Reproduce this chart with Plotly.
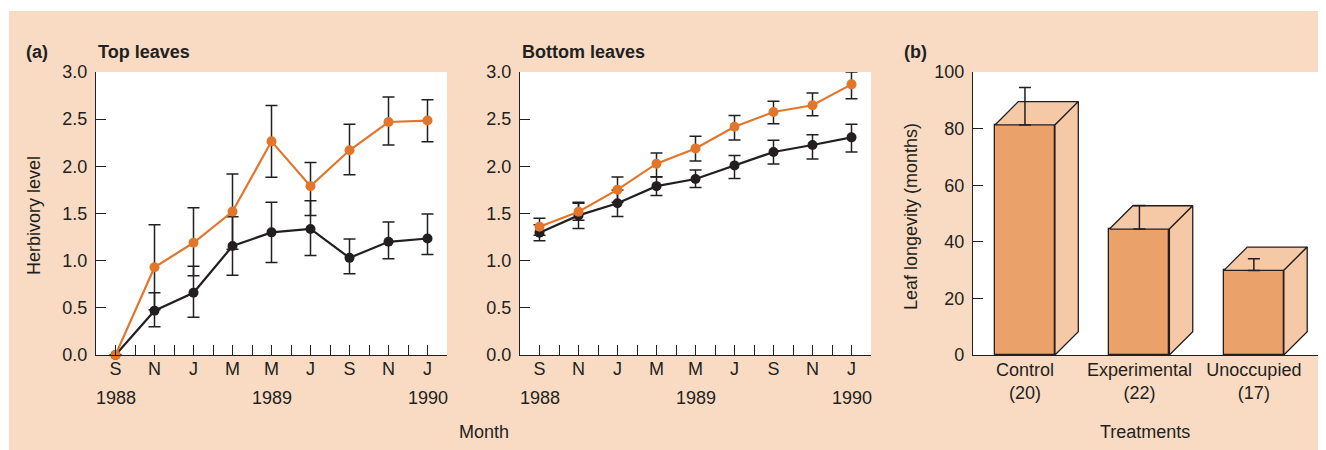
import plotly.graph_objects as go

# ---------------- data ----------------
month_labels = ['S', 'N', 'J', 'M', 'M', 'J', 'S', 'N', 'J']
months_since_sep88 = [0, 2, 4, 6, 8, 10, 12, 14, 16]
year_labels = ['1988', '1989', '1990']
year_months = [0, 8, 16]

# Top leaves
top_black = [0.0, 0.47, 0.66, 1.155, 1.30, 1.336, 1.03, 1.20, 1.235]
top_black_plus = [0.0, 0.19, 0.28, 0.31, 0.32, 0.30, 0.20, 0.21, 0.26]
top_black_minus = [0.0, 0.17, 0.26, 0.31, 0.32, 0.28, 0.17, 0.18, 0.17]
top_orange = [0.0, 0.93, 1.19, 1.52, 2.265, 1.79, 2.17, 2.47, 2.485]
top_orange_plus = [0.0, 0.45, 0.37, 0.40, 0.38, 0.25, 0.275, 0.265, 0.22]
top_orange_minus = [0.0, 0.45, 0.35, 0.40, 0.38, 0.31, 0.26, 0.245, 0.225]

# Bottom leaves
bot_black = [1.297, 1.48, 1.608, 1.79, 1.866, 2.01, 2.152, 2.226, 2.307]
bot_black_plus = [0.085, 0.14, 0.14, 0.10, 0.095, 0.105, 0.125, 0.11, 0.14]
bot_black_minus = [0.085, 0.14, 0.14, 0.10, 0.09, 0.14, 0.127, 0.148, 0.155]
bot_orange = [1.36, 1.519, 1.753, 2.028, 2.19, 2.42, 2.576, 2.647, 2.869]
bot_orange_plus = [0.09, 0.09, 0.135, 0.113, 0.13, 0.12, 0.114, 0.13, 0.13]
bot_orange_minus = [0.09, 0.09, 0.135, 0.14, 0.133, 0.14, 0.124, 0.11, 0.152]

# (b) leaf longevity
treatments = ['Control', 'Experimental', 'Unoccupied']
sample_sizes = [20, 22, 17]
longevity = [81.3, 44.5, 29.9]
longevity_err = [13.2, 8.3, 4.1]

# ---------------- styles ----------------
OFF = 8                 # default page body margin
W, H = 1326 - OFF, 450 - OFF
BG = '#F9DBC3'
ORANGE = '#E2762B'
DARK = '#231F20'
FRONT = '#EBA16A'
SIDE = '#F6C9A6'
FONT = 'Liberation Sans, Arial, sans-serif'
FS = 18

def px_x(p):
    return (p - OFF) / W

def px_y(p):
    return 1 - (p - OFF) / H

fig = go.Figure()

def line_series(x, y, plus, minus, color, xa, ya, name):
    fig.add_trace(go.Scatter(
        x=x, y=y, mode='lines+markers', name=name,
        line=dict(color=color, width=2.2),
        marker=dict(color=color, size=10),
        error_y=dict(type='data', symmetric=False, array=plus, arrayminus=minus,
                     color=DARK, thickness=1.5, width=6),
        xaxis=xa, yaxis=ya, showlegend=False, cliponaxis=False))

line_series(months_since_sep88, top_black, top_black_plus, top_black_minus, DARK, 'x', 'y', 'Top black')
line_series(months_since_sep88, top_orange, top_orange_plus, top_orange_minus, ORANGE, 'x', 'y', 'Top orange')
line_series(months_since_sep88, bot_black, bot_black_plus, bot_black_minus, DARK, 'x2', 'y2', 'Bottom black')
line_series(months_since_sep88, bot_orange, bot_orange_plus, bot_orange_minus, ORANGE, 'x2', 'y2', 'Bottom orange')

# ---- 3D-looking bars ----
bar_pos = list(range(len(treatments)))
BW = 0.524   # bar width in axis units
DX = 0.204   # depth offset x (axis units)
DY = 8.24    # depth offset y (axis units)

fig.add_trace(go.Bar(x=bar_pos, y=longevity, width=BW,
                     marker=dict(color=FRONT, line=dict(color=DARK, width=1.3)),
                     xaxis='x3', yaxis='y3', showlegend=False))
for c, v in zip(bar_pos, longevity):
    l, r = c - BW / 2, c + BW / 2
    # top face
    fig.add_trace(go.Scatter(x=[l, r, r + DX, l + DX, l], y=[v, v, v + DY, v + DY, v],
                             mode='lines', fill='toself', fillcolor=SIDE,
                             line=dict(color=DARK, width=1.3),
                             xaxis='x3', yaxis='y3', showlegend=False, hoverinfo='skip'))
    # side face
    fig.add_trace(go.Scatter(x=[r, r + DX, r + DX, r, r], y=[0, DY, v + DY, v, 0],
                             mode='lines', fill='toself', fillcolor=SIDE,
                             line=dict(color=DARK, width=1.3),
                             xaxis='x3', yaxis='y3', showlegend=False, hoverinfo='skip'))
# error bars (upper only)
fig.add_trace(go.Scatter(x=bar_pos, y=longevity, mode='markers',
                         marker=dict(size=1, opacity=0),
                         error_y=dict(type='data', symmetric=False, array=longevity_err,
                                      arrayminus=[0] * len(longevity_err),
                                      color=DARK, thickness=1.5, width=6),
                         xaxis='x3', yaxis='y3', showlegend=False, cliponaxis=False))

axis_common = dict(showline=True, linecolor=DARK, linewidth=1.3, showgrid=False,
                   zeroline=False, ticks='inside', tickcolor=DARK, tickwidth=1.3,
                   ticklen=10, automargin=False,
                   tickfont=dict(family=FONT, size=FS, color=DARK))

month_tickvals = list(range(0, 18))
month_ticktext = []
for m in month_tickvals:
    if m in months_since_sep88:
        month_ticktext.append(month_labels[months_since_sep88.index(m)])
    else:
        month_ticktext.append('')

def month_axis(x0, x1):
    return dict(axis_common, domain=[px_x(x0), px_x(x1)], range=[-1, 17],
                tickvals=month_tickvals, ticktext=month_ticktext, ticklabelstandoff=-3)

def herb_axis():
    return dict(axis_common, domain=[px_y(355), px_y(72)], range=[0, 3],
                tickvals=[0, 0.5, 1, 1.5, 2, 2.5, 3], tickformat='.1f', ticklabelstandoff=4)

fig.update_layout(
    width=W, height=H, margin=dict(l=0, r=0, t=0, b=0, pad=0),
    paper_bgcolor=BG, plot_bgcolor='white',
    font=dict(family=FONT, size=FS, color=DARK),
    xaxis=dict(month_axis(96, 447), anchor='y'),
    yaxis=dict(herb_axis(), anchor='x'),
    xaxis2=dict(month_axis(520, 871), anchor='y2'),
    yaxis2=dict(herb_axis(), anchor='x2'),
    xaxis3=dict(axis_common, domain=[px_x(973), px_x(1323)], range=[-0.454, 2.604],
                tickvals=bar_pos,
                ticktext=[f'{t}<br>({n})' for t, n in zip(treatments, sample_sizes)],
                ticks='', ticklabelstandoff=-2, anchor='y3'),
    yaxis3=dict(axis_common, domain=[px_y(355), px_y(72)], range=[0, 100],
                tickvals=[0, 20, 40, 60, 80, 100], ticklabelstandoff=4, anchor='x3'),
    bargap=0,
)

# thin white page edges (left and top)
fig.add_shape(type='rect', xref='paper', yref='paper', x0=0, x1=px_x(9), y0=0, y1=1,
              fillcolor='white', line=dict(width=0), layer='below')
fig.add_shape(type='rect', xref='paper', yref='paper', x0=0, x1=1, y0=px_y(11), y1=1,
              fillcolor='white', line=dict(width=0), layer='below')

def ann(text, x, y, bold=False, angle=0, xanchor='center'):
    fig.add_annotation(text=f'<b>{text}</b>' if bold else text,
                       x=px_x(x), y=px_y(y), xref='paper', yref='paper',
                       xanchor=xanchor, yanchor='middle', showarrow=False, textangle=angle,
                       font=dict(family=FONT, size=FS, color=DARK))

ann('(a)', 24, 52, bold=True, xanchor='left')
ann('Top leaves', 96, 52, bold=True, xanchor='left')
ann('Bottom leaves', 520, 52, bold=True, xanchor='left')
ann('(b)', 902, 52, bold=True, xanchor='left')
ann('Herbivory level', 34, 216, angle=-90)
ann('Leaf longevity (months)', 911, 217, angle=-90)
ann('Month', 484, 432)
ann('Treatments', 1145, 432)

for xa in ['x', 'x2']:
    for lab, m in zip(year_labels, year_months):
        fig.add_annotation(text=lab, x=m, y=px_y(398), xref=xa, yref='paper',
                           showarrow=False, yanchor='middle',
                           font=dict(family=FONT, size=FS, color=DARK))

fig.write_html('out.html')
